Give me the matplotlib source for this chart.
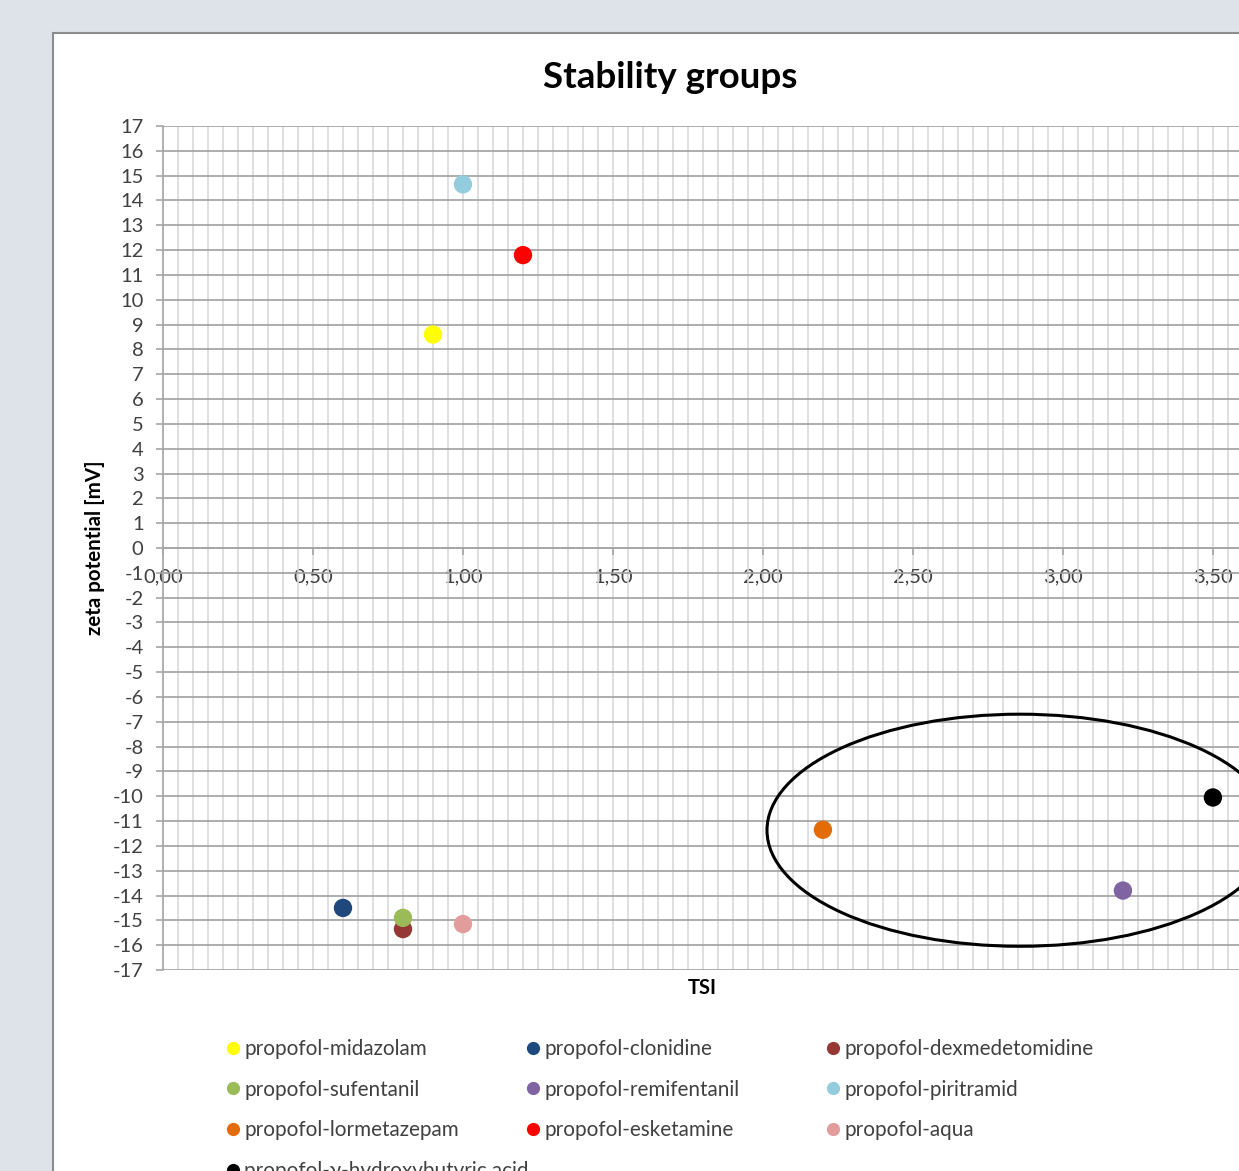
import matplotlib
matplotlib.use("Agg")
import matplotlib.pyplot as plt
from matplotlib.patches import Rectangle, Ellipse
from matplotlib.ticker import MultipleLocator, FuncFormatter
from matplotlib.lines import Line2D

# Daten: TSI und Zetapotential je Mischung
names = [
    "propofol-midazolam", "propofol-clonidine", "propofol-dexmedetomidine",
    "propofol-sufentanil", "propofol-remifentanil", "propofol-piritramid",
    "propofol-lormetazepam", "propofol-esketamine", "propofol-aqua",
    "propofol-γ-hydroxybutyric acid",
]
tsi = [0.90, 0.60, 0.80, 0.80, 3.20, 1.00, 2.20, 1.20, 1.00, 3.50]
zeta = [8.6, -14.5, -15.35, -14.9, -13.8, 14.65, -11.35, 11.8, -15.15, -10.05]
colors = [
    "#ffff00", "#1f497d", "#953735", "#9bbb59", "#8064a2",
    "#93cddd", "#e36c09", "#ff0000", "#e39c9c", "#000000",
]

W, H = 1239, 1171
plt.rcParams["font.family"] = ["Lato", "DejaVu Sans"]
plt.rcParams["axes.unicode_minus"] = False

fig = plt.figure(figsize=(W / 100, H / 100), dpi=100, facecolor="#dee3ea")

# weißer Diagrammbereich mit grauem Rand
fig.patches.append(Rectangle((53 / W, -0.1), 2, 1 - 33 / H + 0.1,
                             transform=fig.transFigure, facecolor="white",
                             edgecolor="#8c8c8c", linewidth=1.5, zorder=-5))

ax = fig.add_axes([163 / W, 1 - 970 / H, (W - 163) / W, 844 / H])
ax.set_xlim(0, 3.587)
ax.set_ylim(-17, 17)

ax.spines["top"].set_visible(False)
ax.spines["right"].set_visible(False)
ax.spines["bottom"].set_position(("data", 0))
for s in ("left", "bottom"):
    ax.spines[s].set_color("#a6a6a6")
    ax.spines[s].set_linewidth(1.2)

ax.xaxis.set_major_locator(MultipleLocator(0.5))
ax.xaxis.set_minor_locator(MultipleLocator(0.05))
ax.xaxis.set_major_formatter(FuncFormatter(lambda v, p: f"{v:.2f}".replace(".", ",")))
ax.yaxis.set_major_locator(MultipleLocator(1))

ax.tick_params(axis="x", which="major", direction="out", length=5, width=1.2,
               color="#a6a6a6", labelsize=14.5, labelcolor="#404040", pad=9.5)
ax.tick_params(axis="x", which="minor", length=0)
ax.tick_params(axis="y", which="major", direction="out", length=5, width=1.2,
               color="#a6a6a6", labelsize=14.5, labelcolor="#404040", pad=9)

ax.grid(axis="x", which="both", color="#d9d9d9", linewidth=1.2)
ax.grid(axis="y", which="major", color="#a0a0a0", linewidth=1.2)
ax.set_axisbelow(True)

handles = []
for n, x, y, c in zip(names, tsi, zeta, colors):
    ax.scatter([x], [y], s=175, color=c, edgecolors="none", zorder=3, clip_on=False)
    handles.append(Line2D([], [], linestyle="none", marker="o", markersize=9.5,
                          markerfacecolor=c, markeredgecolor="none", label=n))

# Gruppe der instabilen Mischungen
ax.add_patch(Ellipse((2.857, -11.37), 1.687, 9.35, facecolor="none",
                     edgecolor="black", linewidth=2.2, zorder=4))

fig.text(670 / W, 1 - 77 / H, "Stability groups", ha="center", va="center",
         fontsize=26.5, fontweight="bold", color="black")
fig.text(702 / W, 1 - 988 / H, "TSI", ha="center", va="center",
         fontsize=14.5, fontweight="bold", color="black")
fig.text(95 / W, 1 - 548 / H, "zeta potential [mV]", ha="center", va="center",
         rotation=90, fontsize=14.8, fontweight="bold", color="black")

# Legende in drei Spalten
for col, x0 in enumerate([233, 533, 833]):
    leg = fig.legend(handles=handles[col::3], loc="upper left",
                     bbox_to_anchor=((x0 - 6.5) / W, 1 - 1039 / H),
                     frameon=False, fontsize=14.9, handlelength=0.63,
                     handletextpad=0.22, labelspacing=1.0, borderpad=0,
                     borderaxespad=0, labelcolor="#404040")

fig.savefig("out.png", dpi=100, facecolor=fig.get_facecolor())
